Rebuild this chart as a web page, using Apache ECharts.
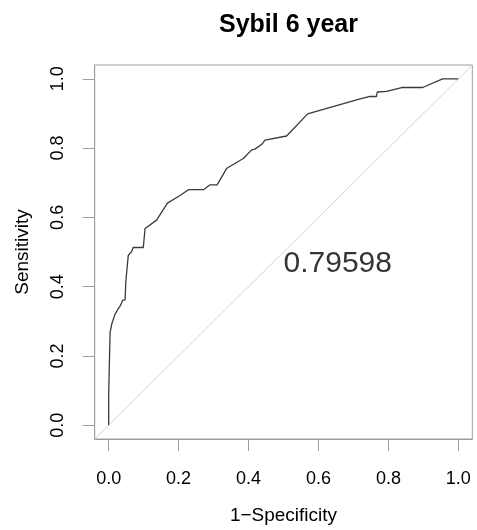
<!DOCTYPE html>
<html>
<head>
<meta charset="utf-8">
<script src="https://cdn.jsdelivr.net/npm/echarts@6/dist/echarts.min.js"></script>
<style>
  html, body { margin: 0; padding: 0; background: #fff; }
  #chart { width: 477px; height: 530px; }
</style>
</head>
<body>
<div id="chart"></div>
<script>
// ROC curve points: [1-specificity, sensitivity]
var rocPoints = [
  [0.000, 0.000], [0.000, 0.090], [0.004, 0.090], [0.004, 0.267],
  [0.009, 0.293], [0.012, 0.293], [0.018, 0.320], [0.022, 0.320],
  [0.026, 0.334], [0.031, 0.334], [0.034, 0.346], [0.040, 0.360],
  [0.047, 0.362], [0.049, 0.415], [0.056, 0.490], [0.066, 0.502],
  [0.070, 0.513], [0.099, 0.513], [0.104, 0.568], [0.137, 0.592],
  [0.168, 0.641], [0.172, 0.641], [0.204, 0.663], [0.228, 0.680],
  [0.271, 0.680], [0.290, 0.694], [0.310, 0.694], [0.338, 0.742],
  [0.340, 0.747], [0.385, 0.770], [0.409, 0.795], [0.418, 0.797],
  [0.438, 0.811], [0.447, 0.823], [0.509, 0.835], [0.569, 0.899],
  [0.719, 0.942], [0.745, 0.949], [0.766, 0.949], [0.768, 0.962],
  [0.795, 0.964], [0.838, 0.975], [0.898, 0.975], [0.955, 1.000],
  [1.000, 1.000]
];
var diagonal = [[-0.04, -0.04], [1.04, 1.04]];
var tickValues = [0, 0.2, 0.4, 0.6, 0.8, 1.0];
var aucText = '0.79598';
var aucAt = [0.5, 0.465];

var boxGrey = '#9e9e9e';
var font = 'Liberation Sans, Arial, Helvetica, sans-serif';

var chart = echarts.init(document.getElementById('chart'));

function axisFor(name, isY) {
  return {
    type: 'value',
    min: -0.04,
    max: 1.04,
    name: name,
    nameLocation: 'middle',
    nameGap: isY ? 62 : 67,
    nameTextStyle: { color: '#000', fontSize: 19, fontFamily: font },
    axisLine: { show: true, onZero: false, lineStyle: { color: boxGrey, width: 1 } },
    splitLine: { show: false },
    axisTick: {
      show: true,
      inside: false,
      length: 12,
      customValues: tickValues,
      lineStyle: { color: boxGrey, width: 1 }
    },
    axisLabel: {
      customValues: tickValues,
      margin: isY ? 28 : 31,
      rotate: isY ? 90 : 0,
      color: '#000',
      fontSize: 18,
      fontFamily: font,
      formatter: function (v) { return v.toFixed(1); }
    }
  };
}

var option = {
  animation: false,
  backgroundColor: '#fff',
  title: {
    text: 'Sybil 6 year',
    left: 283.5,
    top: 8,
    textAlign: 'center',
    textStyle: { color: '#000', fontSize: 25, fontWeight: 'bold', fontFamily: font }
  },
  grid: {
    left: 94.7,
    right: 4.7,
    top: 65,
    bottom: 87.7,
    show: true,
    borderColor: boxGrey,
    borderWidth: 1,
    backgroundColor: 'transparent'
  },
  xAxis: axisFor('1\u2212Specificity', false),
  yAxis: axisFor('Sensitivity', true),
  series: [
    {
      name: 'reference',
      type: 'line',
      data: diagonal,
      symbol: 'none',
      silent: true,
      lineStyle: { color: '#d4d4d4', width: 1 }
    },
    {
      name: 'roc',
      type: 'line',
      data: rocPoints,
      symbol: 'none',
      lineStyle: { color: '#3a3a3a', width: 1.3 }
    },
    {
      name: 'auc',
      type: 'scatter',
      data: [aucAt],
      symbolSize: 0,
      silent: true,
      label: {
        show: true,
        position: 'right',
        distance: 0,
        formatter: aucText,
        color: '#000',
        fontSize: 30,
        fontFamily: font
      }
    }
  ]
};

chart.setOption(option);
</script>
</body>
</html>
